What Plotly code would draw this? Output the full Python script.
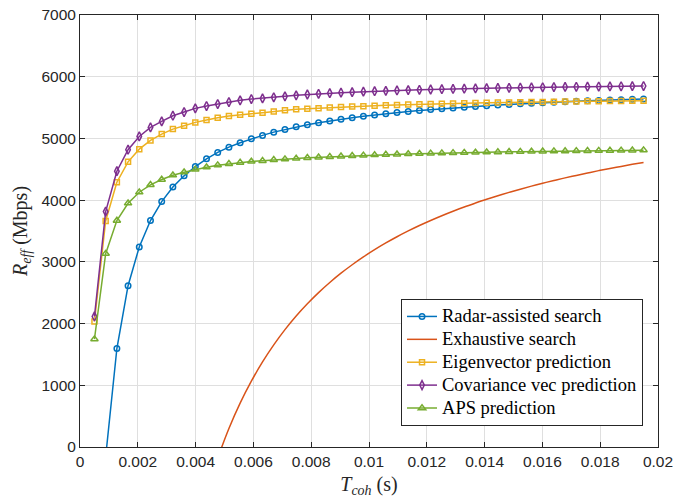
import plotly.graph_objects as go

# Coherence time samples (s)
t_coh = [0.000500, 0.000888, 0.001276, 0.001663, 0.002051, 0.002439, 0.002827, 0.003214,
         0.003602, 0.003990, 0.004378, 0.004765, 0.005153, 0.005541, 0.005929, 0.006316,
         0.006704, 0.007092, 0.007480, 0.007867, 0.008255, 0.008643, 0.009031, 0.009418,
         0.009806, 0.010194, 0.010582, 0.010969, 0.011357, 0.011745, 0.012133, 0.012520,
         0.012908, 0.013296, 0.013684, 0.014071, 0.014459, 0.014847, 0.015235, 0.015622,
         0.016010, 0.016398, 0.016786, 0.017173, 0.017561, 0.017949, 0.018337, 0.018724,
         0.019112, 0.019500]

# Radar-assisted search (starts at sample index 1)
radar = [-160, 1596, 2614, 3242, 3669, 3977, 4213, 4394, 4545, 4670, 4773, 4859, 4930,
         4995, 5049, 5102, 5146, 5190, 5222, 5253, 5283, 5311, 5336, 5359, 5381, 5401,
         5419, 5436, 5452, 5467, 5482, 5495, 5507, 5519, 5530, 5541, 5551, 5560, 5569,
         5578, 5586, 5594, 5601, 5609, 5615, 5622, 5628, 5634, 5640]

# Exhaustive search (starts at sample index 11)
exhaustive = [-178, 299, 710, 1066, 1379, 1655, 1902, 2123, 2321, 2502, 2666, 2816, 2953,
              3080, 3197, 3306, 3407, 3501, 3589, 3671, 3748, 3820, 3889, 3953, 4014, 4071,
              4126, 4178, 4227, 4274, 4318, 4361, 4401, 4440, 4478, 4513, 4547, 4580, 4611]

eigen = [2034, 3663, 4291, 4621, 4826, 4967, 5070, 5151, 5206, 5260, 5297, 5336, 5362,
         5385, 5401, 5417, 5438, 5455, 5471, 5480, 5490, 5500, 5508, 5516, 5523, 5530,
         5536, 5542, 5548, 5553, 5557, 5562, 5566, 5570, 5574, 5577, 5581, 5584, 5587,
         5590, 5592, 5595, 5597, 5600, 5602, 5604, 5606, 5608, 5610, 5612]

covvec = [2115, 3815, 4469, 4817, 5032, 5179, 5276, 5368, 5427, 5487, 5525, 5557, 5589,
          5617, 5638, 5649, 5666, 5682, 5698, 5712, 5723, 5733, 5742, 5750, 5758, 5765,
          5771, 5777, 5783, 5788, 5793, 5798, 5802, 5806, 5810, 5814, 5817, 5820, 5823,
          5826, 5829, 5832, 5834, 5837, 5839, 5841, 5843, 5845, 5847, 5849]

aps = [1748, 3133, 3669, 3950, 4128, 4248, 4334, 4404, 4453, 4497, 4534, 4567, 4589,
       4610, 4627, 4638, 4654, 4664, 4675, 4686, 4694, 4703, 4711, 4718, 4725, 4732,
       4738, 4743, 4749, 4753, 4758, 4762, 4766, 4770, 4773, 4777, 4780, 4783, 4786,
       4789, 4791, 4794, 4796, 4798, 4800, 4802, 4804, 4806, 4808, 4810]

names = ["Radar-assisted search", "Exhaustive search", "Eigenvector prediction",
         "Covariance vec prediction", "APS prediction"]

x_ticks = [0, 0.002, 0.004, 0.006, 0.008, 0.01, 0.012, 0.014, 0.016, 0.018, 0.02]
x_tick_text = ["0", "0.002", "0.004", "0.006", "0.008", "0.01", "0.012", "0.014",
               "0.016", "0.018", "0.02"]
y_ticks = [0, 1000, 2000, 3000, 4000, 5000, 6000, 7000]

SERIF = "'Liberation Serif', 'Times New Roman', Times, serif"
SANS = "'Liberation Sans', Arial, Helvetica, sans-serif"


def leg(name):
    return '<span style="font-size:18.5px">' + name + '</span>'


fig = go.Figure()
lw = 1.5
mlw = 1.5
fig.add_trace(go.Scatter(x=t_coh[1:], y=radar, name=leg(names[0]), mode="lines+markers",
                         line=dict(color="#0072BD", width=lw),
                         marker=dict(symbol="circle-open", size=5.5, line=dict(width=mlw))))
fig.add_trace(go.Scatter(x=t_coh[11:], y=exhaustive, name=leg(names[1]), mode="lines",
                         line=dict(color="#D95319", width=lw, shape="spline", smoothing=1.0)))
fig.add_trace(go.Scatter(x=t_coh, y=eigen, name=leg(names[2]), mode="lines+markers",
                         line=dict(color="#EDB120", width=lw),
                         marker=dict(symbol="square-open", size=5, line=dict(width=mlw))))
fig.add_trace(go.Scatter(x=t_coh, y=covvec, name=leg(names[3]), mode="lines+markers",
                         line=dict(color="#7E2F8E", width=lw),
                         marker=dict(symbol="diamond-tall-open", size=6.5, line=dict(width=mlw))))
fig.add_trace(go.Scatter(x=t_coh, y=aps, name=leg(names[4]), mode="lines+markers",
                         line=dict(color="#77AC30", width=lw),
                         marker=dict(symbol="triangle-up-open", size=6.5, line=dict(width=mlw))))

axis_common = dict(showline=True, linecolor="#262626", linewidth=1, mirror="ticks",
                   ticks="inside", ticklen=5, tickcolor="#262626",
                   showgrid=True, gridcolor="#dfdfdf", gridwidth=1, zeroline=False,
                   automargin=False,
                   tickfont=dict(family=SANS, size=15.5, color="#262626"))

fig.update_xaxes(range=[0, 0.02], tickvals=x_ticks, ticktext=x_tick_text,
                 title=dict(text="<i>T</i><sub><i>coh</i></sub> (s)",
                            font=dict(family=SERIF, size=20, color="#262626"),
                            standoff=18),
                 **axis_common)
fig.update_yaxes(range=[0, 7000], tickvals=y_ticks, tickformat="d",
                 title=dict(text="<i>R</i><sub><i>eff</i></sub> (Mbps)",
                            font=dict(family=SERIF, size=20, color="#262626"),
                            standoff=8),
                 **axis_common)

fig.update_layout(
    width=675, height=498,
    margin=dict(l=80, r=17, t=15, b=51),
    paper_bgcolor="white", plot_bgcolor="white",
    font=dict(family=SERIF),
    legend=dict(x=0.5554, y=0.3426, xanchor="left", yanchor="top",
                bgcolor="white", bordercolor="#262626", borderwidth=1,
                font=dict(family=SERIF, size=15.3, color="black"),
                itemwidth=30, tracegroupgap=0),
    showlegend=True,
)

fig.write_html("out.html")
